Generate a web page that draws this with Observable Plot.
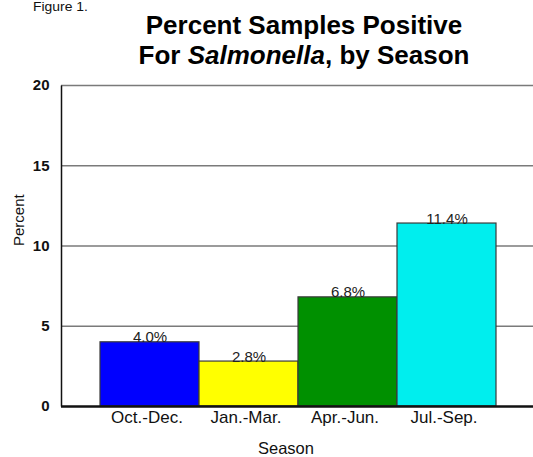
<!DOCTYPE html>
<html>
<head>
<meta charset="utf-8">
<script src="https://cdn.jsdelivr.net/npm/d3@7"></script>
<script src="https://cdn.jsdelivr.net/npm/@observablehq/plot@0.6"></script>
<style>
  body { margin: 0; background: #fff; font-family: "Liberation Sans", Arial, sans-serif; }
  #wrap { position: relative; width: 533px; height: 457px; }
  #header { position: relative; width: 533px; height: 77px; }
  #fig { position: absolute; left: 33px; top: 0px; font-size: 13px; line-height: 14px; color: #111; transform: scaleX(1.07); transform-origin: left center; }
  #title { position: absolute; left: 0; width: 608px; top: 10px; text-align: center; font-size: 25px; font-weight: bold; line-height: 30px; color: #000; transform: scaleX(1.04); transform-origin: center; }
  #chart svg { display: block; }
  svg [aria-label="y-axis tick label"] text { font-weight: bold; }
</style>
</head>
<body>
<div id="wrap">
  <div id="header">
    <div id="fig">Figure 1.</div>
    <div id="title">Percent Samples Positive<br>For <i>Salmonella</i>, by Season</div>
  </div>
  <div id="chart"></div>
</div>
<script>
const seasons = ["Oct.-Dec.", "Jan.-Mar.", "Apr.-Jun.", "Jul.-Sep."];
const percents = [4.0, 2.8, 6.8, 11.4];
const valueLabels = ["4.0%", "2.8%", "6.8%", "11.4%"];
const barColors = ["#0000ff", "#ffff00", "#009000", "#00eeee"];
const yTicks = [0, 5, 10, 15, 20];
const gridValues = [5, 10, 15, 20];
const xTitle = "Season";
const yTitle = "Percent";

const data = seasons.map((s, i) => ({season: s, pct: percents[i], label: valueLabels[i]}));

const W = 533, H = 380, mL = 61, mR = 0, mT = 8, mB = 51;
const fw = W - mL - mR, fh = H - mT - mB;

const chart = Plot.plot({
  width: W, height: H,
  marginLeft: mL, marginRight: mR, marginTop: mT, marginBottom: mB,
  style: {fontFamily: "'Liberation Sans', Arial, sans-serif", color: "#111", background: "#fff"},
  x: {domain: seasons, range: [100, 496], padding: 0, label: null},
  y: {domain: [0, 20], ticks: yTicks, label: null},
  color: {domain: seasons, range: barColors},
  marks: [
    Plot.ruleY(gridValues, {stroke: "#7a7a7a", strokeWidth: 1.5}),
    Plot.frame({stroke: "#111", strokeWidth: 1.5, strokeDasharray: `0 ${fw + fh + fw} ${fh}`}),
    Plot.barY(data, {x: "season", y: "pct", fill: "season", stroke: "#3a3a3a", strokeWidth: 1.2, inset: 0}),
    Plot.text(data, {x: "season", y: "pct", text: "label", lineAnchor: "bottom", dy: 0, fontSize: 15, fill: "#222"}),
    Plot.ruleY([0], {stroke: "#111", strokeWidth: 2.5}),
    Plot.axisY({ticks: yTicks, tickSize: 0, tickPadding: 12, fontSize: 15, fontWeight: "bold", fill: "#111", label: null}),
    Plot.axisX({tickSize: 0, tickPadding: 4, fontSize: 17, fill: "#111", dx: -3, label: null}),
    Plot.text([xTitle], {frameAnchor: "bottom", lineAnchor: "bottom", dx: -11.5, dy: 47, fontSize: 16.5, fill: "#111"}),
    Plot.text([yTitle], {frameAnchor: "left", lineAnchor: "bottom", rotate: -90, dx: -38, dy: 0, fontSize: 15, fill: "#111"})
  ]
});
document.getElementById("chart").appendChild(chart);
</script>
</body>
</html>
